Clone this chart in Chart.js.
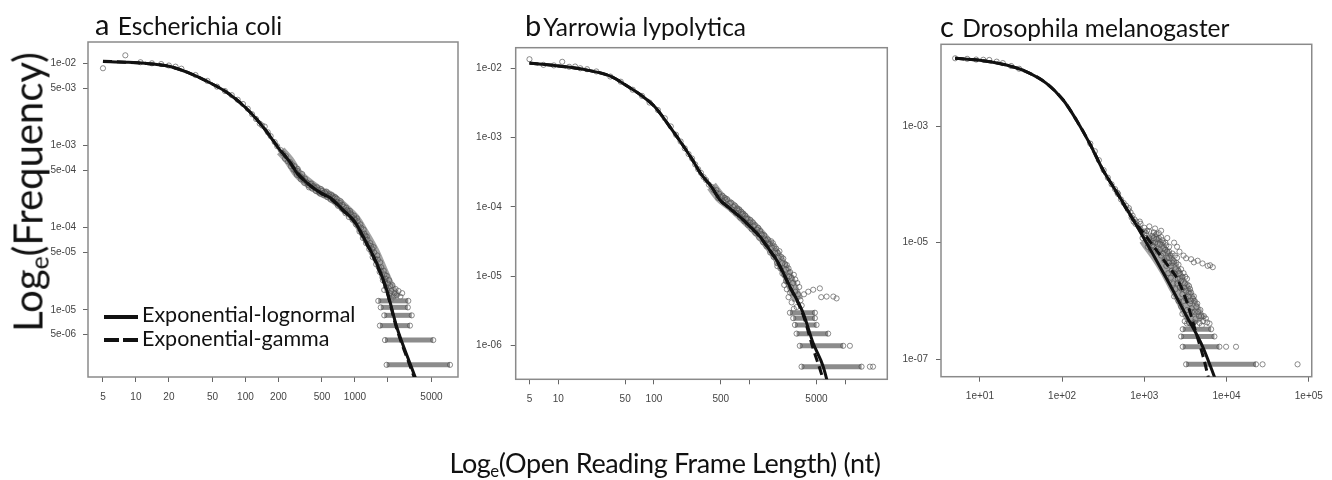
<!DOCTYPE html>
<html>
<head>
<meta charset="utf-8">
<script src="https://cdn.jsdelivr.net/npm/chart.js@4.4.0/dist/chart.umd.min.js"></script>
<style>
  html, body { margin: 0; padding: 0; background: #fff; }
  #wrap { position: relative; width: 1332px; height: 480px; overflow: hidden;
          font-family: Lato, "Open Sans", sans-serif; color: #111; }
  canvas { position: absolute; left: 0; top: 0; }
  .title { position: absolute; white-space: nowrap; font-size: 24.5px; line-height: 1; }
  .title .tag { font-size: 29px; margin-right: 2px; }
  .axlabel { position: absolute; white-space: nowrap; line-height: 1; }
  .axlabel sub { font-size: 0.62em; vertical-align: -0.25em; }
  .leg { position: absolute; white-space: nowrap; font-size: 21.5px; line-height: 1; }
  .swatch { position: absolute; height: 4px; background: #111; }
</style>
</head>
<body>
<div id="wrap">
  <canvas id="panelA" width="1332" height="480"></canvas>
  <canvas id="panelB" width="1332" height="480"></canvas>
  <canvas id="panelC" width="1332" height="480"></canvas>

  <div class="title" style="left:95px; top:9px;"><span class="tag">a</span> Escherichia coli</div>
  <div class="title" style="left:525px; top:10px;"><span class="tag">b</span>Yarrowia lypolytica</div>
  <div class="title" style="left:940px; top:11px;"><span class="tag">c</span> Drosophila melanogaster</div>

  <div class="axlabel" style="font-size:40px; left:30px; top:192px; transform: translate(-50%,-50%) rotate(-90deg);">Log<sub>e</sub>(Frequency)</div>
  <div class="axlabel" style="font-size:27px; letter-spacing:-0.4px; left:665px; top:449px; transform: translateX(-50%);">Log<sub>e</sub>(Open Reading Frame Length) (nt)</div>

  <div class="swatch" style="left:104px; top:315px; width:34px;"></div>
  <div class="swatch" style="left:104px; top:338px; width:15px;"></div>
  <div class="swatch" style="left:123px; top:338px; width:15px;"></div>
  <div class="leg" style="left:142px; top:304px;">Exponential-lognormal</div>
  <div class="leg" style="left:142px; top:328px;">Exponential-gamma</div>
</div>

<script>
// ---- a: Escherichia coli ----
const ecoliCurveX = [5, 8, 12, 20, 30, 45, 70, 100, 130, 160, 200, 250, 300, 350, 430, 500, 600, 780, 1000, 1200, 1580, 1950, 2400, 3180, 3800];
const ecoliLognormal = [1.05e-2, 1.03e-2, 1.0e-2, 9.2e-3, 7.7e-3, 6.0e-3, 4.3e-3, 2.9e-3, 2.0e-3, 1.41e-3, 9.3e-4, 6.5e-4, 4.5e-4, 3.7e-4, 2.96e-4, 2.6e-4, 2.3e-4, 1.64e-4, 1.17e-4, 7.6e-5, 3.7e-5, 1.75e-5, 6.3e-6, 2.24e-6, 1.2e-6];
const ecoliGamma = [1.06e-2, 1.03e-2, 1.0e-2, 9.2e-3, 7.7e-3, 6.0e-3, 4.3e-3, 2.9e-3, 2.0e-3, 1.42e-3, 9.4e-4, 6.5e-4, 4.6e-4, 3.7e-4, 2.95e-4, 2.6e-4, 2.25e-4, 1.62e-4, 1.16e-4, 7.5e-5, 3.6e-5, 1.7e-5, 6.0e-6, 2.1e-6, 1.1e-6];
// centre of the dense cloud of observed points
const ecoliCloudX = [210, 250, 300, 400, 500, 600, 800, 1000, 1200, 1500, 1800, 2100, 2400];
const ecoliCloudY = [8.6e-4, 6.6e-4, 4.6e-4, 3.3e-4, 2.7e-4, 2.4e-4, 1.75e-4, 1.3e-4, 8.8e-5, 5.2e-5, 3.0e-5, 1.9e-5, 1.4e-5];
const ecoliPoints = [
  [5,8.7e-3],[8,1.25e-2],[11,1.03e-2],[14,1.0e-2],[17,9.8e-3],[20,9.4e-3],[23,9.1e-3],[26,8.6e-3],[35,7.2e-3],[45,6.1e-3],
  [55,5.2e-3],[65,4.6e-3],[75,4.1e-3],[85,3.6e-3],[95,3.2e-3],[105,2.8e-3],[115,2.4e-3],[125,2.1e-3],[135,1.85e-3],[142,1.75e-3],
  [150,1.7e-3],[160,1.45e-3],[170,1.3e-3],[185,1.1e-3],[195,9.8e-4],[210,8.8e-4],[220,8.0e-4],[230,6.9e-4],[235,7.4e-4],[245,6.4e-4],
  [255,6.3e-4],[260,5.6e-4],[265,5.9e-4],[275,5.1e-4],[280,5.6e-4],[285,5.0e-4],[290,4.7e-4],[295,4.4e-4],[300,4.9e-4],[300,5.2e-4],
  [310,4.3e-4],[320,3.9e-4],[320,4.2e-4],[330,4.0e-4],[330,4.5e-4],[340,3.8e-4],[345,3.5e-4],[350,3.95e-4],[360,3.6e-4],[370,3.5e-4],
  [375,3.3e-4],[380,3.1e-4],[390,3.4e-4],[400,3.45e-4],[405,3.0e-4],[410,3.2e-4],[420,3.2e-4],[430,3.05e-4],[440,2.8e-4],[450,3.1e-4],
  [460,2.9e-4],[470,2.7e-4],[480,2.6e-4],[490,2.95e-4],[500,2.8e-4],[510,2.65e-4],[520,2.5e-4],[530,2.7e-4],[540,2.6e-4],[550,2.75e-4],
  [560,2.35e-4],[570,2.45e-4],[580,2.55e-4],[590,2.4e-4],[600,2.2e-4],[610,2.5e-4],[625,2.4e-4],[640,2.3e-4],[650,2.1e-4],[660,2.35e-4],
  [680,2.25e-4],[690,2.05e-4],[700,1.85e-4],[720,1.9e-4],[730,2.0e-4],[740,2.1e-4],[760,1.7e-4],[770,1.9e-4],[790,1.8e-4],[800,1.6e-4],
  [820,1.5e-4],[830,1.75e-4],[850,1.65e-4],[860,1.6e-4],[870,1.5e-4],[880,1.35e-4],[900,1.6e-4],[910,1.5e-4],[930,1.45e-4],[940,1.35e-4],
  [950,1.25e-4],[980,1.4e-4],[990,1.3e-4],[1000,1.25e-4],[1020,1.1e-4],[1040,1.3e-4],[1060,1.2e-4],[1080,1.05e-4],[1100,9.0e-5],[1120,1.1e-4],
  [1140,1.0e-4],[1160,8.5e-5],[1180,7.5e-5],[1200,9.5e-5],[1220,8.5e-5],[1240,8.0e-5],[1250,7.2e-5],[1260,6.5e-5],[1280,7.8e-5],[1300,7.2e-5],
  [1330,6.2e-5],[1350,5.5e-5],[1380,6.5e-5],[1400,6.0e-5],[1420,5.0e-5],[1440,5.5e-5],[1450,4.4e-5],[1480,5.8e-5],[1500,5.0e-5],[1530,4.2e-5],
  [1560,3.6e-5],[1600,4.6e-5],[1620,4.1e-5],[1650,3.3e-5],[1680,2.9e-5],[1700,3.8e-5],[1720,3.0e-5],[1740,3.3e-5],[1780,2.5e-5],[1800,2.3e-5],
  [1830,3.0e-5],[1850,1.75e-5],[1860,2.7e-5],[1880,2.2e-5],[1900,2.4e-5],[1920,1.9e-5],[1950,2.6e-5],[1980,1.7e-5],[2000,2.1e-5],[2050,2.3e-5],
  [2080,1.6e-5],[2100,1.95e-5],[2150,1.7e-5],[2150,1.35e-5],[2200,2.0e-5],[2250,1.45e-5],[2300,1.6e-5],[2350,1.8e-5],[2400,1.5e-5],[2500,1.7e-5],
  [2600,1.45e-5],[2700,1.6e-5]
];
const ecoliBandY = [2.15e-6, 4.3e-6, 6.45e-6, 8.6e-6, 1.075e-5, 1.29e-5];
const ecoliBandFrom = [1946, 1880, 1690, 1853, 1720, 1633];
const ecoliBandTo = [7380, 5190, 3180, 3300, 3040, 3070];
const ecoliXTicks = [5, 10, 20, 50, 100, 200, 500, 1000, 2000, 5000];
const ecoliXLabels = ['5', '10', '20', '50', '100', '200', '500', '1000', '', '5000'];
const ecoliYTicks = [1e-2, 5e-3, 1e-3, 5e-4, 1e-4, 5e-5, 1e-5, 5e-6];
const ecoliYLabels = ['1e-02', '5e-03', '1e-03', '5e-04', '1e-04', '5e-05', '1e-05', '5e-06'];

// ---- b: Yarrowia lypolytica ----
const yarrowiaCurveX = [5, 10, 20, 35, 54, 75, 102, 140, 194, 250, 310, 400, 490, 600, 791, 1000, 1281, 1600, 1914, 2637, 3634, 4620, 5880, 7000];
const yarrowiaLognormal = [1.18e-2, 1.08e-2, 9.4e-3, 7.7e-3, 5.4e-3, 4.0e-3, 2.79e-3, 1.57e-3, 8.3e-4, 4.9e-4, 3.0e-4, 1.94e-4, 1.26e-4, 9.9e-5, 7.2e-5, 5.3e-5, 3.73e-5, 2.45e-5, 1.72e-5, 7.1e-6, 2.93e-6, 1.08e-6, 4.97e-7, 2.0e-7];
const yarrowiaGamma = [1.19e-2, 1.08e-2, 9.4e-3, 7.7e-3, 5.4e-3, 4.0e-3, 2.79e-3, 1.57e-3, 8.3e-4, 4.9e-4, 3.0e-4, 1.94e-4, 1.26e-4, 9.9e-5, 7.2e-5, 5.3e-5, 3.7e-5, 2.42e-5, 1.7e-5, 7.0e-6, 2.75e-6, 9.0e-7, 3.2e-7, 1.2e-7];
const yarrowiaCloudX = [400, 500, 650, 800, 1000, 1300, 1600, 2000, 2400, 2800, 3200];
const yarrowiaCloudY = [2.0e-4, 1.35e-4, 1.02e-4, 7.8e-5, 5.8e-5, 4.0e-5, 2.8e-5, 1.8e-5, 1.15e-5, 7.0e-6, 4.5e-6];
const yarrowiaPoints = [
  [5,1.35e-2],[7,1.12e-2],[9,1.1e-2],[11,1.24e-2],[13,1.05e-2],[15,1.06e-2],[17,1.0e-2],[20,9.7e-3],[25,9.0e-3],[35,7.6e-3],
  [45,6.4e-3],[60,4.9e-3],[75,4.0e-3],[90,3.2e-3],[110,2.5e-3],[130,1.9e-3],
  [150,1.45e-3],[170,1.1e-3],[190,8.8e-4],[210,7.0e-4],[230,5.8e-4],[250,5.0e-4],[270,4.1e-4],[290,3.5e-4],[310,3.1e-4],[330,2.7e-4],
  [350,2.45e-4],[375,2.1e-4],[400,1.95e-4],[420,1.75e-4],[450,1.6e-4],[450,1.75e-4],[470,1.35e-4],[480,1.55e-4],[500,1.4e-4],[520,1.45e-4],
  [530,1.2e-4],[550,1.35e-4],[560,1.25e-4],[580,1.3e-4],[590,1.05e-4],[620,1.12e-4],[640,1.15e-4],[650,9.2e-5],[680,1.0e-4],[700,1.05e-4],
  [720,8.2e-5],[740,9.5e-5],[760,8.8e-5],[780,9.2e-5],[800,7.0e-5],[820,8.5e-5],[840,7.8e-5],[860,8.0e-5],[880,6.2e-5],[900,7.5e-5],
  [920,6.8e-5],[950,6.8e-5],[960,5.5e-5],[1000,6.0e-5],[1020,6.5e-5],[1050,4.8e-5],[1080,6.0e-5],[1100,5.3e-5],[1130,5.5e-5],[1150,4.2e-5],
  [1200,4.7e-5],[1230,5.0e-5],[1260,3.6e-5],[1290,4.5e-5],[1320,4.1e-5],[1350,4.0e-5],[1380,3.1e-5],[1420,3.9e-5],[1440,3.5e-5],[1480,3.3e-5],
  [1500,2.7e-5],[1550,3.4e-5],[1570,3.0e-5],[1620,2.9e-5],[1640,2.2e-5],[1680,3.2e-5],[1700,2.6e-5],[1750,3.0e-5],[1780,1.9e-5],[1820,2.7e-5],
  [1850,2.2e-5],[1900,2.5e-5],[1930,1.55e-5],[1950,1.4e-5],[1960,2.2e-5],[2000,1.85e-5],[2050,2.3e-5],[2100,1.3e-5],[2150,1.9e-5],[2200,1.55e-5],
  [2200,1.1e-5],[2250,1.8e-5],[2300,1.05e-5],[2300,7.5e-6],[2350,1.5e-5],[2400,1.25e-5],[2400,8.5e-6],[2450,1.45e-5],[2450,6.5e-6],[2500,8.5e-6],
  [2550,1.3e-5],[2550,5.0e-6],[2600,1.0e-5],[2650,1.15e-5],[2650,5.8e-6],[2700,7.0e-6],[2750,9.5e-6],[2750,4.2e-6],[2850,8.0e-6],[2900,1.05e-5],
  [2900,3.4e-6],[3000,6.0e-6],[3000,9.0e-6],[3100,3.6e-6],[3150,8.0e-6],[3200,5.5e-6],[3300,7.0e-6],[3400,4.5e-6],[3500,3.8e-6],[3700,5.5e-6],
  [4100,6.0e-6],[4620,6.4e-6],[5420,6.7e-6],[6380,5.1e-6],[7500,5.1e-6],[8110,4.8e-6],[5600,5.0e-6]
];
const yarrowiaBandY = [4.97e-7, 9.94e-7, 1.49e-6, 1.99e-6, 2.49e-6, 2.98e-6];
const yarrowiaBandFrom = [3490, 3344, 3096, 2974, 2856, 2637];
const yarrowiaBandTo = [14790, 9510, 6620, 5010, 4810, 4810];
const yarrowiaOutliers = [[18070,4.97e-7],[19500,4.97e-7],[11170,9.94e-7]];
const yarrowiaXTicks = [5, 10, 50, 100, 500, 1000, 5000, 10000];
const yarrowiaXLabels = ['5', '10', '50', '100', '500', '', '5000', ''];
const yarrowiaYTicks = [1e-2, 1e-3, 1e-4, 1e-5, 1e-6];
const yarrowiaYLabels = ['1e-02', '1e-03', '1e-04', '1e-05', '1e-06'];

// ---- c: Drosophila melanogaster ----
const drosoCurveX = [5, 11, 21, 37, 64.5, 103, 149, 216, 314, 456, 500, 798, 1269, 2023, 3220, 5130, 7110, 7800];
const drosoLognormal = [1.45e-2, 1.32e-2, 1.11e-2, 8.5e-3, 5.4e-3, 2.79e-3, 1.27e-3, 5.05e-4, 1.76e-4, 7.5e-5, 6.1e-5, 2.0e-5, 6.4e-6, 1.95e-6, 5.7e-7, 1.64e-7, 5.0e-8, 3.5e-8];
const drosoGammaX = [5, 11, 21, 37, 64.5, 103, 149, 216, 314, 456, 700, 1000, 1269, 1600, 2023, 2440, 3220, 4265, 5300, 5900, 6500];
const drosoGamma = [1.45e-2, 1.32e-2, 1.11e-2, 8.5e-3, 5.4e-3, 2.79e-3, 1.27e-3, 5.05e-4, 1.76e-4, 7.5e-5, 2.7e-5, 1.4e-5, 9.0e-6, 5.8e-6, 3.7e-6, 2.6e-6, 1.05e-6, 2.8e-7, 1.0e-7, 5.4e-8, 3.0e-8];
const drosoCloudX = [1100, 1200, 1600, 2000, 2500, 3000, 3500, 4000, 4500];
const drosoCloudY = [1.25e-5, 1.05e-5, 6.0e-6, 3.6e-6, 2.0e-6, 1.25e-6, 8.0e-7, 5.5e-7, 4.2e-7];
const drosoPoints = [
  [5,1.45e-2],[7,1.42e-2],[9,1.38e-2],[11,1.37e-2],[13,1.36e-2],[16,1.27e-2],[19,1.2e-2],[24,1.07e-2],[30,9.6e-3],
  [220,5.0e-4],[250,3.7e-4],[280,2.6e-4],[320,1.75e-4],[360,1.3e-4],[400,1.0e-4],[440,8.3e-5],[470,7.2e-5],
  [480,6.8e-5],[520,5.5e-5],[560,4.8e-5],[600,4.3e-5],[640,3.6e-5],[650,3.9e-5],[680,3.3e-5],[700,2.7e-5],[720,2.9e-5],[740,2.3e-5],
  [760,2.5e-5],[780,2.1e-5],[800,2.3e-5],[850,1.9e-5],[880,2.3e-5],[900,1.7e-5],[900,2.1e-5],[950,1.5e-5],[950,1.2e-5],[1000,1.35e-5],
  [1000,1.8e-5],[1000,1.55e-5],[1050,1.2e-5],[1050,1.45e-5],[1080,1.6e-5],[1100,1.1e-5],[1100,8.5e-6],[1150,1.55e-5],[1150,1.2e-5],[1150,1.9e-5],
  [1200,1.0e-5],[1200,7.5e-6],[1250,1.3e-5],[1250,9.0e-6],[1300,8.5e-6],[1300,1.2e-5],[1300,1.5e-5],[1350,1.0e-5],[1350,1.75e-5],[1400,1.4e-5],
  [1400,1.15e-5],[1450,7.0e-6],[1450,9.5e-6],[1500,1.45e-5],[1500,1.2e-5],[1550,9.5e-6],[1550,7.5e-6],[1600,6.0e-6],[1600,1.25e-5],[1600,1.6e-5],
  [1650,1.1e-5],[1700,8.0e-6],[1700,1.0e-5],[1700,6.5e-6],[1750,5.0e-6],[1800,1.0e-5],[1800,7.5e-6],[1850,4.0e-6],[1850,9.0e-6],[1900,7.0e-6],
  [1900,5.5e-6],[1900,1.2e-5],[1950,3.0e-6],[2000,8.5e-6],[2000,5.5e-6],[2000,4.5e-6],[2000,7.0e-6],[2100,4.0e-6],[2100,2.5e-6],[2100,6.0e-6],
  [2150,3.3e-6],[2200,6.5e-6],[2200,4.5e-6],[2250,2.0e-6],[2300,4.8e-6],[2300,3.0e-6],[2300,1.2e-6],[2300,1.0e-5],[2350,6.0e-6],[2400,3.5e-6],
  [2400,1.6e-6],[2450,4.5e-6],[2500,5.5e-6],[2500,2.0e-6],[2500,8.5e-6],[2550,2.4e-6],[2600,4.2e-6],[2600,3.3e-6],[2600,1.0e-6],[2700,3.0e-6],
  [2700,1.7e-6],[2700,2.4e-6],[2800,2.2e-6],[2800,3.5e-6],[2800,8.0e-7],[2850,1.6e-6],[2900,1.3e-6],[2900,2.6e-6],[2900,6.0e-7],[3000,3.0e-6],
  [3000,1.0e-6],[3050,1.7e-6],[3100,2.0e-6],[3100,4.5e-7],[3150,2.6e-6],[3200,1.5e-6],[3200,1.1e-6],[3300,2.4e-6],[3300,7.0e-7],[3300,4.1e-7],
  [3350,1.9e-6],[3400,1.2e-6],[3450,1.4e-6],[3500,1.8e-6],[3500,4.2e-7],[3600,9.0e-7],[3600,1.6e-6],[3700,1.4e-6],[3700,1.0e-6],[3750,7.5e-7],
  [3800,6.5e-7],[3900,1.1e-6],[3900,4.1e-7],[4000,4.3e-7],[4000,1.2e-6],[4100,1.0e-6],[4100,6.5e-7],[4200,5.0e-7],[4300,8.0e-7],[4400,9.0e-7],
  [4500,6.5e-7],[4600,5.5e-7],[4700,4.2e-7],[4800,7.0e-7],[4900,5.5e-7],[5000,3.8e-7],[5200,4.5e-7],[5300,5.5e-7],[5600,5.0e-7],[5800,4.3e-7],
  [6200,4.1e-7],
  [2675,7.0e-6],[3000,6.0e-6],[3220,5.4e-6],[3710,5.2e-6],[4000,4.6e-6],[4450,4.9e-6],[5100,4.4e-6],[5900,4.0e-6],[6300,4.1e-6],[6800,3.8e-6]
];
const drosoBandY = [8.2e-8, 1.64e-7, 2.46e-7, 3.28e-7];
const drosoBandFrom = [3220, 2930, 2800, 2930];
const drosoBandTo = [22800, 8180, 7110, 6490];
const drosoOutliers = [[27400,8.2e-8],[73000,8.2e-8],[9870,1.64e-7],[13030,1.64e-7]];
const drosoXTicks = [10, 100, 1000, 10000, 100000];
const drosoXLabels = ['1e+01', '1e+02', '1e+03', '1e+04', '1e+05'];
const drosoYTicks = [1e-3, 1e-5, 1e-7];
const drosoYLabels = ['1e-03', '1e-05', '1e-07'];

// frame around the plotting region, like R's box()
const boxPlugin = {
  id: 'box',
  beforeDatasetsDraw(chart) {
    const a = chart.chartArea, ctx = chart.ctx;
    ctx.save();
    ctx.strokeStyle = '#8a8a8a';
    ctx.lineWidth = 1.5;
    ctx.strokeRect(a.left, a.top, a.right - a.left, a.bottom - a.top);
    ctx.restore();
  }
};

const tickFont = { family: '"Liberation Sans", Arial, sans-serif', size: 10 };
const pointGray = 'rgba(80,80,80,0.65)';

function buildPanel(id, p) {
  const xy = (xs, ys) => xs.map((x, i) => ({ x: x, y: ys[i] }));
  const datasets = [
    { data: xy(p.curveX, p.lognormal), showLine: true, borderColor: '#111', borderWidth: 3,
      cubicInterpolationMode: 'monotone', pointRadius: 0, order: 0 },
    { data: xy(p.gammaX, p.gamma), showLine: true, borderColor: '#111', borderWidth: 3,
      cubicInterpolationMode: 'monotone', borderDash: [9, 5], pointRadius: 0, order: 0 },
    { data: xy(p.cloudX, p.cloudY), showLine: true, borderColor: 'rgba(125,125,125,0.7)',
      borderWidth: p.cloudWidth, cubicInterpolationMode: 'monotone', borderCapStyle: 'butt',
      pointRadius: 0, order: 3 }
  ];
  p.bandY.forEach((y, i) => {
    datasets.push({
      data: [{ x: p.bandFrom[i], y: y }, { x: p.bandTo[i], y: y }],
      showLine: true, borderColor: 'rgba(128,128,128,0.9)', borderWidth: 5,
      pointRadius: 2.6, pointBorderWidth: 1, pointBorderColor: pointGray,
      pointBackgroundColor: 'rgba(255,255,255,0)', order: 1
    });
  });
  datasets.push({
    data: p.points.concat(p.outliers || []).map(([x, y]) => ({ x: x, y: y })),
    pointRadius: 2.6, pointBorderWidth: 1, pointBorderColor: pointGray,
    pointBackgroundColor: 'rgba(255,255,255,0)', order: 2
  });

  new Chart(document.getElementById(id), {
    type: 'scatter',
    data: { datasets: datasets },
    options: {
      responsive: false,
      animation: false,
      devicePixelRatio: 1,
      layout: { padding: p.padding },
      plugins: { legend: { display: false }, tooltip: { enabled: false } },
      scales: {
        x: {
          type: 'logarithmic', min: p.xMin, max: p.xMax, bounds: 'data',
          grid: { drawOnChartArea: false, drawTicks: true, tickLength: 5, color: '#666' },
          border: { display: false },
          ticks: { autoSkip: false, maxRotation: 0, padding: 9, color: '#444', font: tickFont,
                   callback: (v, i) => p.xLabels[i] },
          afterBuildTicks: s => { s.ticks = p.xTicks.map(v => ({ value: v })); },
          afterFit: s => { s.height = 40; }
        },
        y: {
          type: 'logarithmic', min: p.yMin, max: p.yMax, bounds: 'data',
          grid: { drawOnChartArea: false, drawTicks: true, tickLength: 5, color: '#666' },
          border: { display: false },
          ticks: { autoSkip: false, padding: p.yPad, color: '#444', font: tickFont,
                   callback: (v, i) => p.yLabels[i] },
          afterBuildTicks: s => { s.ticks = p.yTicks.map(v => ({ value: v })); },
          afterFit: s => { s.width = 60; }
        }
      }
    },
    plugins: [boxPlugin]
  });
}

buildPanel('panelA', {
  curveX: ecoliCurveX, lognormal: ecoliLognormal, gammaX: ecoliCurveX, gamma: ecoliGamma,
  cloudX: ecoliCloudX, cloudY: ecoliCloudY, cloudWidth: 10,
  points: ecoliPoints, bandY: ecoliBandY, bandFrom: ecoliBandFrom, bandTo: ecoliBandTo,
  xTicks: ecoliXTicks, xLabels: ecoliXLabels, yTicks: ecoliYTicks, yLabels: ecoliYLabels,
  xMin: 3.65, xMax: 8730, yMin: 1.53e-6, yMax: 1.815e-2, yPad: 7,
  padding: { left: 28, right: 874, top: 42, bottom: 63 }
});
buildPanel('panelB', {
  curveX: yarrowiaCurveX, lognormal: yarrowiaLognormal, gammaX: yarrowiaCurveX, gamma: yarrowiaGamma,
  cloudX: yarrowiaCloudX, cloudY: yarrowiaCloudY, cloudWidth: 11,
  points: yarrowiaPoints, outliers: yarrowiaOutliers,
  bandY: yarrowiaBandY, bandFrom: yarrowiaBandFrom, bandTo: yarrowiaBandTo,
  xTicks: yarrowiaXTicks, xLabels: yarrowiaXLabels, yTicks: yarrowiaYTicks, yLabels: yarrowiaYLabels,
  xMin: 3.59, xMax: 27480, yMin: 3.27e-7, yMax: 1.98e-2, yPad: 9,
  padding: { left: 455.7, right: 444.7, top: 47.7, bottom: 60.7 }
});
buildPanel('panelC', {
  curveX: drosoCurveX, lognormal: drosoLognormal, gammaX: drosoGammaX, gamma: drosoGamma,
  cloudX: drosoCloudX, cloudY: drosoCloudY, cloudWidth: 20,
  points: drosoPoints, outliers: drosoOutliers,
  bandY: drosoBandY, bandFrom: drosoBandFrom, bandTo: drosoBandTo,
  xTicks: drosoXTicks, xLabels: drosoXLabels, yTicks: drosoYTicks, yLabels: drosoYLabels,
  xMin: 3.365, xMax: 108600, yMin: 5.03e-8, yMax: 2.52e-2, yPad: 8,
  padding: { left: 881, right: 19.3, top: 44.3, bottom: 63.3 }
});
</script>
</body>
</html>
